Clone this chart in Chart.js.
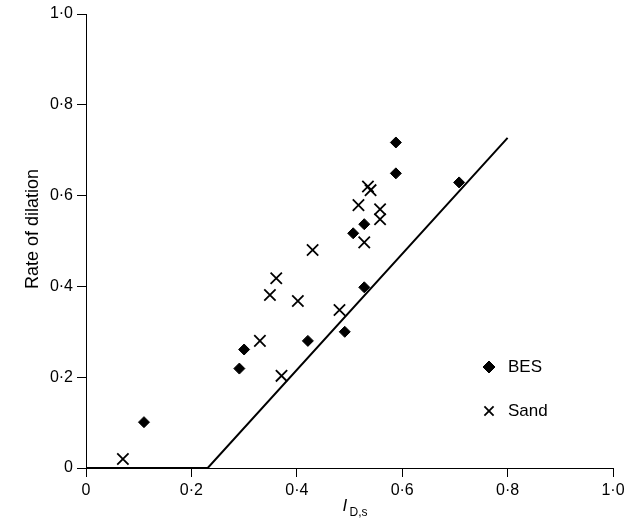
<!DOCTYPE html>
<html><head><meta charset="utf-8">
<script src="https://cdn.jsdelivr.net/npm/chart.js@4/dist/chart.umd.min.js"></script>
<style>html,body{margin:0;padding:0;background:#fff;}#wrap{width:639px;height:519px;}</style>
</head><body><div id="wrap"><canvas id="c" width="639" height="519"></canvas></div>
<script>
// ---- data ----
const besX  = [0.110, 0.291, 0.300, 0.421, 0.491, 0.528, 0.507, 0.528, 0.588, 0.588, 0.708];
const besY  = [0.101, 0.219, 0.261, 0.280, 0.300, 0.398, 0.517, 0.537, 0.649, 0.717, 0.629];
const sandX = [0.070, 0.330, 0.349, 0.361, 0.371, 0.402, 0.430, 0.481, 0.528, 0.517, 0.535, 0.540, 0.558, 0.558];
const sandY = [0.020, 0.280, 0.381, 0.418, 0.203, 0.368, 0.480, 0.348, 0.497, 0.579, 0.620, 0.612, 0.570, 0.548];
const fitX  = [0, 0.231, 0.800];
const fitY  = [0, 0, 0.727];
const xTicks = [0, 0.2, 0.4, 0.6, 0.8, 1.0];
const yTicks = [0, 0.2, 0.4, 0.6, 0.8, 1.0];
const seriesNames = ['BES', 'Sand'];
const yTitle = 'Rate of dilation';

const FONT = '"Liberation Sans", Arial, sans-serif';
const fmt = v => v === 0 ? '0' : v.toFixed(1).replace('.', '\u00B7');
const pts = (xs, ys) => xs.map((x, i) => ({x, y: ys[i]}));

const extras = {
  id: 'extras',
  afterDraw(chart) {
    const ctx = chart.ctx;
    const ca = chart.chartArea;
    ctx.save();
    ctx.fillStyle = '#000';
    ctx.strokeStyle = '#000';
    // y axis title
    ctx.save();
    ctx.translate(33, 229);
    ctx.rotate(-Math.PI / 2);
    ctx.textAlign = 'center';
    ctx.textBaseline = 'middle';
    ctx.font = '18px ' + FONT;
    ctx.fillText(yTitle, 0, 0);
    ctx.restore();
    // x axis title I_{D,s}
    const cx = (ca.left + ca.right) / 2;
    ctx.textBaseline = 'alphabetic';
    ctx.textAlign = 'left';
    ctx.font = 'italic 17px ' + FONT;
    ctx.fillText('I', cx - 7, 511);
    ctx.font = '12px ' + FONT;
    ctx.fillText('D,s', cx, 516);
    // legend
    ctx.lineWidth = 1;
    Chart.helpers.drawPoint(ctx, {pointStyle: 'rectRot', radius: 6, borderWidth: 1, rotation: 0}, 489, 367);
    ctx.lineWidth = 1.8;
    Chart.helpers.drawPoint(ctx, {pointStyle: 'crossRot', radius: 6.5, borderWidth: 1.8, rotation: 0}, 489, 411);
    ctx.font = '17px ' + FONT;
    ctx.textBaseline = 'middle';
    ctx.fillText(seriesNames[0], 508, 367);
    ctx.fillText(seriesNames[1], 508, 411);
    ctx.restore();
  }
};

new Chart(document.getElementById('c'), {
  type: 'scatter',
  data: {
    datasets: [
      {label: seriesNames[0], data: pts(besX, besY), pointStyle: 'rectRot', pointRadius: 5.5,
       backgroundColor: '#000', borderColor: '#000', borderWidth: 1, showLine: false},
      {label: seriesNames[1], data: pts(sandX, sandY), pointStyle: 'crossRot', pointRadius: 8,
       backgroundColor: '#000', borderColor: '#000', borderWidth: 1.8, showLine: false},
      {label: 'fit', data: pts(fitX, fitY), showLine: true, pointRadius: 0,
       borderColor: '#000', borderWidth: 2, fill: false, tension: 0}
    ]
  },
  options: {
    responsive: false,
    animation: false,
    devicePixelRatio: 1,
    layout: {padding: {left: 0, right: 26, top: 14, bottom: 0}},
    plugins: {legend: {display: false}, tooltip: {enabled: false}},
    scales: {
      x: {
        type: 'linear', min: 0, max: 1,
        afterBuildTicks: s => { s.ticks = xTicks.map(v => ({value: v})); },
        afterFit: s => { s.height = 51; },
        grid: {display: true, drawOnChartArea: false, drawTicks: true, tickLength: 9, color: '#000', lineWidth: 1},
        border: {display: true, color: '#000', width: 1},
        ticks: {callback: v => fmt(v), color: '#000', font: {family: FONT, size: 16}, padding: 4, maxRotation: 0}
      },
      y: {
        type: 'linear', min: 0, max: 1,
        afterBuildTicks: s => { s.ticks = yTicks.map(v => ({value: v})); },
        afterFit: s => { s.width = 86; },
        grid: {display: true, drawOnChartArea: false, drawTicks: true, tickLength: 9, color: '#000', lineWidth: 1},
        border: {display: true, color: '#000', width: 1},
        ticks: {callback: v => fmt(v), color: '#000', font: {family: FONT, size: 16}, padding: 4}
      }
    }
  },
  plugins: [extras]
});
</script>
</body></html>
